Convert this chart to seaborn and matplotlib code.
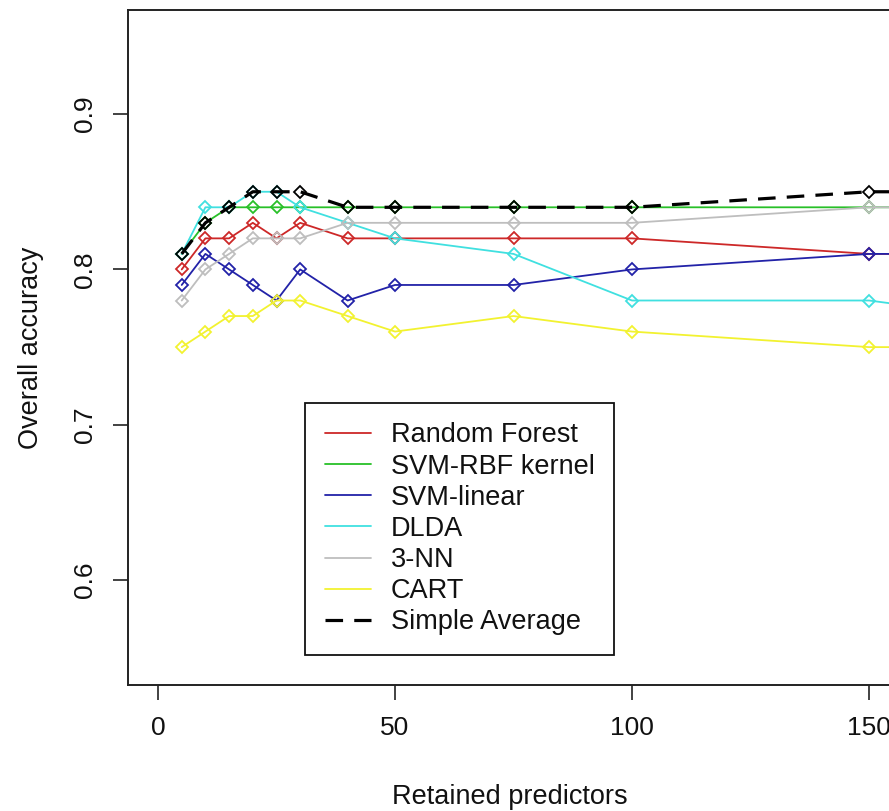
import matplotlib
matplotlib.use("Agg")
import matplotlib.pyplot as plt
from matplotlib.lines import Line2D
import seaborn as sns
import pandas as pd

# ---- data ----
predictors = [5, 10, 15, 20, 25, 30, 40, 50, 75, 100, 150, 200]
random_forest = [0.80, 0.82, 0.82, 0.83, 0.82, 0.83, 0.82, 0.82, 0.82, 0.82, 0.81, 0.81]
svm_rbf       = [0.81, 0.83, 0.84, 0.84, 0.84, 0.84, 0.84, 0.84, 0.84, 0.84, 0.84, 0.84]
svm_linear    = [0.79, 0.81, 0.80, 0.79, 0.78, 0.80, 0.78, 0.79, 0.79, 0.80, 0.81, 0.81]
dlda          = [0.81, 0.84, 0.84, 0.85, 0.85, 0.84, 0.83, 0.82, 0.81, 0.78, 0.78, 0.76]
knn3          = [0.78, 0.80, 0.81, 0.82, 0.82, 0.82, 0.83, 0.83, 0.83, 0.83, 0.84, 0.84]
cart          = [0.75, 0.76, 0.77, 0.77, 0.78, 0.78, 0.77, 0.76, 0.77, 0.76, 0.75, 0.75]
simple_avg    = [0.81, 0.83, 0.84, 0.85, 0.85, 0.85, 0.84, 0.84, 0.84, 0.84, 0.85, 0.85]

series_names = ["Random Forest", "SVM-RBF kernel", "SVM-linear", "DLDA", "3-NN", "CART", "Simple Average"]
series_values = [random_forest, svm_rbf, svm_linear, dlda, knn3, cart, simple_avg]
x_ticks = [0, 50, 100, 150]
y_ticks = [0.6, 0.7, 0.8, 0.9]

colors = ["#CD2828", "#28C028", "#2222A8", "#40E0E0", "#BEBEBE", "#F2F230", "#000000"]

sns.set_theme(style="white")
plt.rcParams['font.family'] = ['Liberation Sans', 'DejaVu Sans']

fig = plt.figure(figsize=(8.89, 8.11), dpi=100)
ax = fig.add_axes([128/889, (811-685)/811, (892-128)/889, (685-10)/811])

for name, vals, col in zip(series_names, series_values, colors):
    df = pd.DataFrame({"x": predictors, "y": vals})
    if name == "Simple Average":
        sns.lineplot(data=df, x="x", y="y", ax=ax, color=col, lw=2.3,
                     linestyle=(0, (5.5, 3.5)), marker="D", ms=6.2,
                     markerfacecolor="none", markeredgecolor=col, mew=1.3,
                     clip_on=True, zorder=3)
    else:
        sns.lineplot(data=df, x="x", y="y", ax=ax, color=col, lw=1.3,
                     marker="D", ms=6.2, markerfacecolor="none",
                     markeredgecolor=col, mew=1.3, clip_on=True, zorder=2)

ax.set_xlim(-6.33, 154.85)
ax.set_ylim(0.5325, 0.967)
ax.set_xticks(x_ticks)
ax.set_yticks(y_ticks)
ax.set_xticklabels([str(t) for t in x_ticks])
ax.set_yticklabels([f"{t:.1f}" for t in y_ticks], rotation=90, va="center")

for s in ["left", "top", "bottom"]:
    ax.spines[s].set_color("#222222")
    ax.spines[s].set_linewidth(1.4)
ax.spines["right"].set_visible(False)

ax.tick_params(axis="both", direction="out", length=11, width=1.2, color="#222222",
               labelsize=19, labelcolor="#111111", bottom=True, left=True)
ax.tick_params(axis="x", pad=11)
ax.tick_params(axis="y", pad=11)

ax.set_xlabel("Retained predictors", fontsize=19.5, color="#111111", labelpad=32)
ax.set_ylabel("Overall accuracy", fontsize=19.5, color="#111111", labelpad=21)

handles = []
for name, col in zip(series_names, colors):
    if name == "Simple Average":
        handles.append(Line2D([], [], color=col, lw=2.3, linestyle=(0, (5.5, 3.5))))
    else:
        handles.append(Line2D([], [], color=col, lw=1.3))

leg = ax.legend(handles, series_names, loc="upper left",
                bbox_to_anchor=(305/889, 1 - 403/811), bbox_transform=fig.transFigure,
                borderaxespad=0, fontsize=19.5, frameon=True, fancybox=False,
                framealpha=1, edgecolor="#111111", handlelength=1.7,
                handletextpad=0.75, labelspacing=0.19, borderpad=0.72)
leg.get_frame().set_linewidth(1.3)
for t in leg.get_texts():
    t.set_color("#111111")

fig.savefig("out.png", dpi=100)
